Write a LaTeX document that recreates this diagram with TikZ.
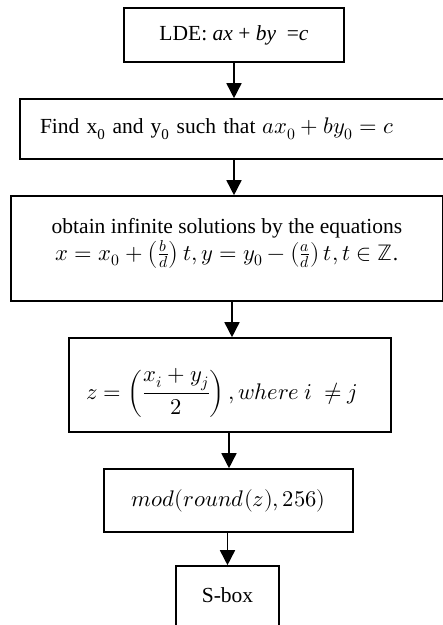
\documentclass[tikz,border=0pt]{standalone}
\usepackage{amsmath}
\usepackage{fontspec}
\usepackage{unicode-math}
\setmainfont{Liberation Serif}
\setmathfont{Latin Modern Math}[Scale=1.05]
\usetikzlibrary{arrows.meta}
\begin{document}
\begin{tikzpicture}[x=1pt,y=-1pt,
  every node/.style={font=\fontsize{21.5}{26}\selectfont},
  boxx/.style={draw,line width=1.6pt,inner sep=0pt},
  arr/.style={line width=1.6pt,-{Triangle[width=15pt,length=15pt]}}]
\useasboundingbox (0,0) rectangle (443,625);
\begin{scope}
\clip (0,0) rectangle (443,625);
\node[boxx,minimum width=220pt,minimum height=54pt] (b1) at (234,35) {LDE: \textit{ax} + \textit{by}~~=\textit{c}};
\node[boxx,minimum width=450pt,minimum height=60pt,text width=410pt,align=left] (b2) at (245,129) {Find x\textsubscript{0} and y\textsubscript{0} such that $ax_0 + by_0 = c$};
\node[boxx,minimum width=432pt,minimum height=105pt] (b3) at (227,248.5) {};
\node[boxx,minimum width=103pt,minimum height=62pt] (b6) at (227.5,597) {};
\end{scope}
\node[align=center] (t3) at (227,243) {obtain infinite solutions by the equations\\[1pt] $x = x_0 + \left(\frac{b}{d}\right)t, y = y_0 - \left(\frac{a}{d}\right)t, t \in \mathbb{Z}$.};
\node[boxx,minimum width=322pt,minimum height=94pt] (b4) at (230,385) {};
\node (t4) at (222,393) {$z = \left(\dfrac{x_i + y_j}{2}\right), where\ i\ \neq j$};
\node[boxx,minimum width=249pt,minimum height=63pt] (b5) at (228.5,500.5) {$mod(round(z), 256)$};
\node (t6) at (227.5,595) {S-box};
\coordinate (c3) at (232,301);
\coordinate (c4) at (229,432);
\coordinate (c5) at (227.5,532);
\draw[arr] (b1.south) -- (b1.south |- b2.north);
\draw[arr] (b1.south |- b2.south) -- (b1.south |- b3.north);
\draw[arr] (c3) -- (c3 |- b4.north);
\draw[arr] (c4) -- (c4 |- b5.north);
\draw[arr] (c5) -- (c5 |- b6.north);
\end{tikzpicture}
\end{document}
